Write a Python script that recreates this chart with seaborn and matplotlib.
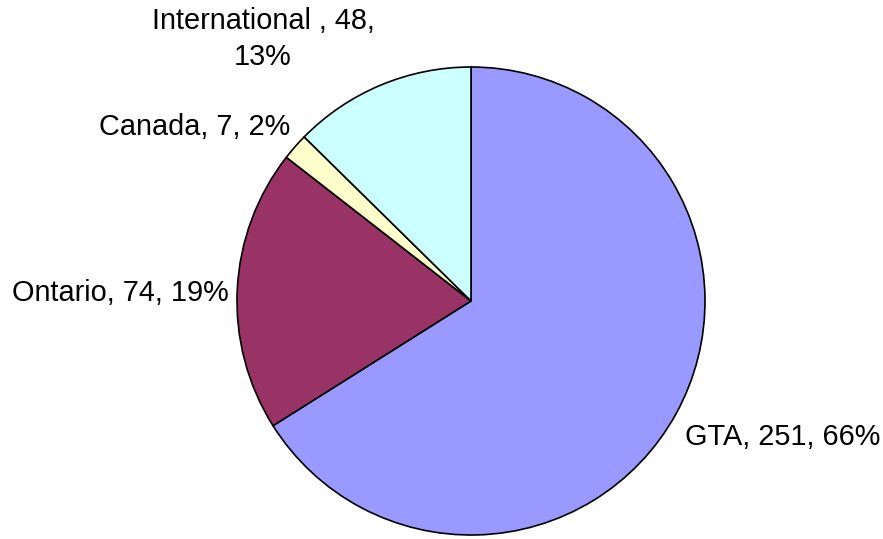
import matplotlib
matplotlib.use("Agg")
import matplotlib.pyplot as plt
import seaborn as sns

regions = ["GTA", "Ontario", "Canada", "International "]
counts = [251, 74, 7, 48]
percents = [66, 19, 2, 13]
colors = ["#9999FF", "#993366", "#FFFFCC", "#CCFFFF"]

sns.set_theme(style="white")
plt.rcParams['font.family'] = ['Liberation Sans', 'DejaVu Sans']

fig = plt.figure(figsize=(8.83, 5.39), dpi=100)
fig.patch.set_facecolor('white')

# pie centre ~ (471, 301) px, radius ~234 px
cx, cy, r = 471, 539 - 301, 234
ax = fig.add_axes([(cx - r) / 883, (cy - r) / 539, 2 * r / 883, 2 * r / 539])
ax.pie(counts, colors=colors, startangle=90, counterclock=False,
       wedgeprops=dict(edgecolor='black', linewidth=1.2))
ax.set_xlim(-1, 1)
ax.set_ylim(-1, 1)
ax.set_aspect('auto')

labels = [f"{n}, {c}, {p}%" for n, c, p in zip(regions, counts, percents)]
labels[3] = f"{regions[3]}, {counts[3]},\n{percents[3]}%"

# label anchor positions in pixels (x, y from top)
pos = [(783, 437), (120, 293), (195, 127), (263, 39)]
for lab, (x, y) in zip(labels, pos):
    fig.text(x / 883, 1 - y / 539, lab, ha='center', va='center',
             fontsize=20.8, color='black', linespacing=1.4)

plt.savefig("out.png", dpi=100)
